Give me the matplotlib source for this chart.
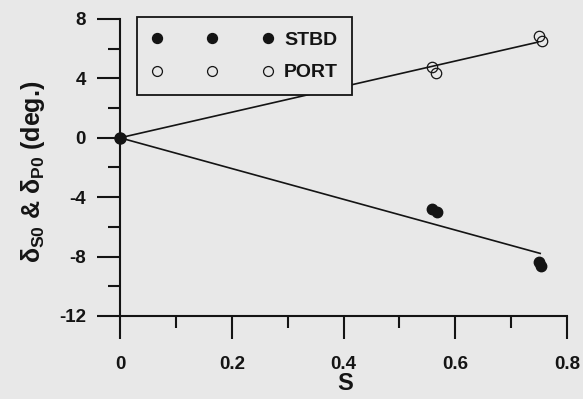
import numpy as np
import matplotlib
matplotlib.use("Agg")
import matplotlib.pyplot as plt
from matplotlib.ticker import FixedLocator, FixedFormatter

plt.rcParams['font.family'] = ['Liberation Sans', 'DejaVu Sans']
plt.rcParams['font.weight'] = 'bold'
plt.rcParams['axes.unicode_minus'] = False
plt.rcParams['mathtext.fontset'] = 'custom'
plt.rcParams['mathtext.rm'] = 'Liberation Sans'
plt.rcParams['mathtext.it'] = 'Liberation Sans'

# data
s_origin = [0.0]
d_origin = [0.0]
s_stbd = [0.558, 0.567, 0.750, 0.754]
d_stbd = [-4.8, -5.0, -8.35, -8.6]
s_port = [0.558, 0.566, 0.750, 0.755]
d_port = [4.77, 4.36, 6.85, 6.53]

x_ticks = [0, 0.2, 0.4, 0.6, 0.8]
x_labels = ['0', '0.2', '0.4', '0.6', '0.8']
x_minor = [0.1, 0.3, 0.5, 0.7]
y_ticks = [-12, -8, -4, 0, 4, 8]
y_labels = ['-12', '-8', '-4', '0', '4', '8']
y_minor = [-10, -6, -2, 2, 6]

bg = '#e8e8e8'
ink = '#141414'


def origin_fit(x, y):
    # least squares line forced through the origin
    x = np.asarray(x)
    y = np.asarray(y)
    return np.sum(x * y) / np.sum(x * x)


fig = plt.figure(figsize=(5.83, 3.99), dpi=100, facecolor=bg)
ax = fig.add_axes([120 / 583, 1 - 316 / 399, 447 / 583, 297 / 399])
ax.set_facecolor(bg)

k_s = origin_fit(s_stbd, d_stbd)
k_p = origin_fit(s_port, d_port)
xs = np.array([0, 0.752])
xp = np.array([0, 0.748])
ax.plot(xs, k_s * xs, color=ink, lw=1.2, zorder=2)
ax.plot(xp, k_p * xp, color=ink, lw=1.2, zorder=2)

ax.plot(s_stbd, d_stbd, 'o', color=ink, ms=7.5, mec=ink, zorder=3, label='STBD',
        clip_on=False)
ax.plot(s_port, d_port, 'o', mfc='none', mec=ink, mew=0.9, ms=7.5, zorder=3,
        label='PORT', clip_on=False)
ax.plot(s_origin, d_origin, 'o', color=ink, ms=8, zorder=4, clip_on=False)

ax.set_xlim(0, 0.8)
ax.set_ylim(-12, 8)
for side in ('top', 'right'):
    ax.spines[side].set_visible(False)
for side in ('left', 'bottom'):
    ax.spines[side].set_linewidth(1.5)
    ax.spines[side].set_color(ink)

ax.xaxis.set_major_locator(FixedLocator(x_ticks))
ax.xaxis.set_major_formatter(FixedFormatter(x_labels))
ax.xaxis.set_minor_locator(FixedLocator(x_minor))
ax.yaxis.set_major_locator(FixedLocator(y_ticks))
ax.yaxis.set_major_formatter(FixedFormatter(y_labels))
ax.yaxis.set_minor_locator(FixedLocator(y_minor))

ax.tick_params(axis='both', which='major', direction='out', length=16.5,
               width=1.5, color=ink, labelsize=13.5, labelcolor=ink)
ax.tick_params(axis='both', which='minor', direction='out', length=8.5,
               width=1.5, color=ink)
ax.tick_params(axis='x', which='major', pad=12)
ax.tick_params(axis='y', which='major', pad=8)
for lab in ax.get_xticklabels() + ax.get_yticklabels():
    lab.set_fontweight('bold')

leg = ax.legend(loc='upper left', bbox_to_anchor=(137 / 583, 1 - 17 / 399),
                bbox_transform=fig.transFigure, numpoints=3, handlelength=6.3,
                handletextpad=0.55, fontsize=14, frameon=True, fancybox=False,
                borderaxespad=0, borderpad=0.72, labelspacing=0.78,
                markerscale=0.95)
leg.get_frame().set_edgecolor(ink)
leg.get_frame().set_linewidth(1.3)
leg.get_frame().set_facecolor(bg)
leg.get_frame().set_alpha(1)
for t in leg.get_texts():
    t.set_color(ink)
    t.set_fontweight('bold')

fig.text(33 / 583, 1 - 172 / 399, r'$\delta_{S0}$ & $\delta_{P0}$ (deg.)',
         rotation=90, ha='center', va='center', fontsize=18, fontweight='bold',
         color=ink)
fig.text(345 / 583, 1 - 383 / 399, 'S', ha='center', va='center', fontsize=17,
         fontweight='bold', color=ink)

fig.savefig('out.png', dpi=100, facecolor=bg)
